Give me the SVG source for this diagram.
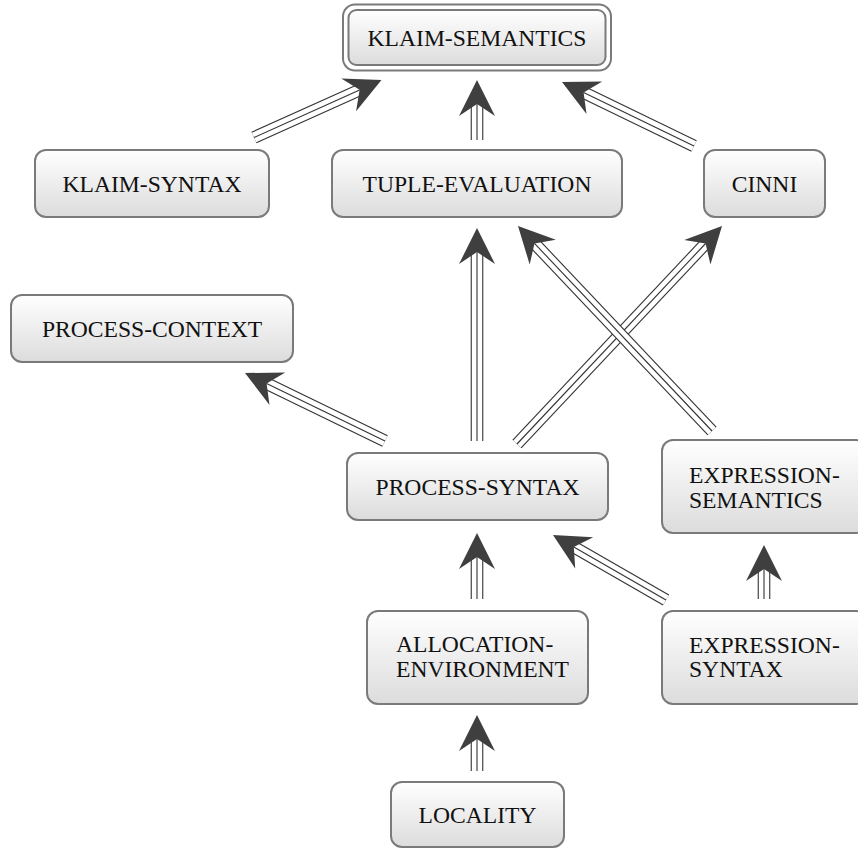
<svg xmlns="http://www.w3.org/2000/svg" xmlns:xlink="http://www.w3.org/1999/xlink" width="858" height="849" viewBox="0 0 858 849">
  <style>
    .box { fill: url(#shade); stroke: #7a7a7a; stroke-width: 2; }
    .ring { fill: #ffffff; stroke: #7a7a7a; stroke-width: 2; }
    .lbl { font-family: "Liberation Serif", "Times New Roman", serif; font-size: 23.6px; fill: #111111; }
    .mid { text-anchor: middle; }
    .o { fill: none; stroke: #333333; stroke-width: 12.6; }
    .w { fill: none; stroke: #ffffff; stroke-width: 10.4; }
    .m { fill: none; stroke: #333333; stroke-width: 1.1; }
    .h { fill: #3f3f3f; }
  </style>
  <defs>
    <linearGradient id="shade" x1="0" y1="0" x2="0" y2="1">
      <stop offset="0" stop-color="#ffffff"/>
      <stop offset="1" stop-color="#dcdcdc"/>
    </linearGradient>
    <path id="head" d="M0,0 L-36,-18 L-24,0 L-36,18 Z"/>
    <!-- connector rails: tail to notch of the head -->
    <path id="e1" d="M477,771 L477,739"/>
    <path id="e2" d="M477,599 L477,557"/>
    <path id="e3" d="M764,599 L764,569"/>
    <path id="e4" d="M666,600 L573.8,547"/>
    <path id="e5" d="M385,441 L266.6,383.5"/>
    <path id="e6" d="M477,441 L477,252"/>
    <path id="e7" d="M517,444 L705.6,243.5"/>
    <path id="e8" d="M712,431 L534.5,243.4"/>
    <path id="e9" d="M254,137.5 L359.6,89.9"/>
    <path id="e10" d="M477,140 L477,104"/>
    <path id="e11" d="M694,146 L583.6,92.5"/>
  </defs>

  <rect width="858" height="849" fill="#ffffff"/>

  <!-- nodes -->
  <g id="klaim-semantics">
    <rect class="ring" x="343" y="4.5" width="268" height="66" rx="12"/>
    <rect class="box" x="348.5" y="10" width="257" height="55" rx="8"/>
    <text class="lbl mid" x="477" y="46">KLAIM-SEMANTICS</text>
  </g>
  <g id="klaim-syntax">
    <rect class="box" x="35" y="150" width="234" height="67" rx="11"/>
    <text class="lbl mid" x="152" y="192">KLAIM-SYNTAX</text>
  </g>
  <g id="tuple-evaluation">
    <rect class="box" x="332" y="150" width="290" height="67" rx="11"/>
    <text class="lbl mid" x="477" y="192">TUPLE-EVALUATION</text>
  </g>
  <g id="cinni">
    <rect class="box" x="704" y="150" width="121" height="67" rx="11"/>
    <text class="lbl mid" x="764.5" y="192">CINNI</text>
  </g>
  <g id="process-context">
    <rect class="box" x="11" y="295" width="282" height="67" rx="11"/>
    <text class="lbl mid" x="152" y="337">PROCESS-CONTEXT</text>
  </g>
  <g id="process-syntax">
    <rect class="box" x="347" y="453" width="261" height="67" rx="11"/>
    <text class="lbl mid" x="477.5" y="495">PROCESS-SYNTAX</text>
  </g>
  <g id="expression-semantics">
    <rect class="box" x="662" y="440" width="205" height="93" rx="11"/>
    <text class="lbl" x="689" y="483">EXPRESSION-</text>
    <text class="lbl" x="689" y="507.5">SEMANTICS</text>
  </g>
  <g id="allocation-environment">
    <rect class="box" x="367" y="611" width="221" height="93" rx="11"/>
    <text class="lbl" x="396" y="652">ALLOCATION-</text>
    <text class="lbl" x="396" y="677">ENVIRONMENT</text>
  </g>
  <g id="expression-syntax">
    <rect class="box" x="662" y="611" width="205" height="93" rx="11"/>
    <text class="lbl" x="689" y="652.5">EXPRESSION-</text>
    <text class="lbl" x="689" y="677">SYNTAX</text>
  </g>
  <g id="locality">
    <rect class="box" x="391" y="782" width="173" height="65" rx="11"/>
    <text class="lbl mid" x="477.5" y="823">LOCALITY</text>
  </g>

  <!-- connectors: triple rails with a stealth head at the target -->
  <g id="connectors">
    <g><use class="o" xlink:href="#e1"/><use class="w" xlink:href="#e1"/><use class="m" xlink:href="#e1"/><use class="h" xlink:href="#head" transform="translate(477,715) rotate(-90)"/></g>
    <g><use class="o" xlink:href="#e2"/><use class="w" xlink:href="#e2"/><use class="m" xlink:href="#e2"/><use class="h" xlink:href="#head" transform="translate(477,533) rotate(-90)"/></g>
    <g><use class="o" xlink:href="#e3"/><use class="w" xlink:href="#e3"/><use class="m" xlink:href="#e3"/><use class="h" xlink:href="#head" transform="translate(764,545) rotate(-90)"/></g>
    <g><use class="o" xlink:href="#e4"/><use class="w" xlink:href="#e4"/><use class="m" xlink:href="#e4"/><use class="h" xlink:href="#head" transform="translate(553,535) rotate(-150.1)"/></g>
    <g><use class="o" xlink:href="#e5"/><use class="w" xlink:href="#e5"/><use class="m" xlink:href="#e5"/><use class="h" xlink:href="#head" transform="translate(245,373) rotate(-154.1)"/></g>
    <g><use class="o" xlink:href="#e6"/><use class="w" xlink:href="#e6"/><use class="m" xlink:href="#e6"/><use class="h" xlink:href="#head" transform="translate(477,228) rotate(-90)"/></g>
    <g><use class="o" xlink:href="#e7"/><use class="w" xlink:href="#e7"/><use class="m" xlink:href="#e7"/><use class="h" xlink:href="#head" transform="translate(722,226) rotate(-46.76)"/></g>
    <g><use class="o" xlink:href="#e8"/><use class="w" xlink:href="#e8"/><use class="m" xlink:href="#e8"/><use class="h" xlink:href="#head" transform="translate(518,226) rotate(-133.43)"/></g>
    <g><use class="o" xlink:href="#e9"/><use class="w" xlink:href="#e9"/><use class="m" xlink:href="#e9"/><use class="h" xlink:href="#head" transform="translate(381.5,80) rotate(-24.27)"/></g>
    <g><use class="o" xlink:href="#e10"/><use class="w" xlink:href="#e10"/><use class="m" xlink:href="#e10"/><use class="h" xlink:href="#head" transform="translate(477,80) rotate(-90)"/></g>
    <g><use class="o" xlink:href="#e11"/><use class="w" xlink:href="#e11"/><use class="m" xlink:href="#e11"/><use class="h" xlink:href="#head" transform="translate(562,82) rotate(-154.13)"/></g>
  </g>
</svg>
